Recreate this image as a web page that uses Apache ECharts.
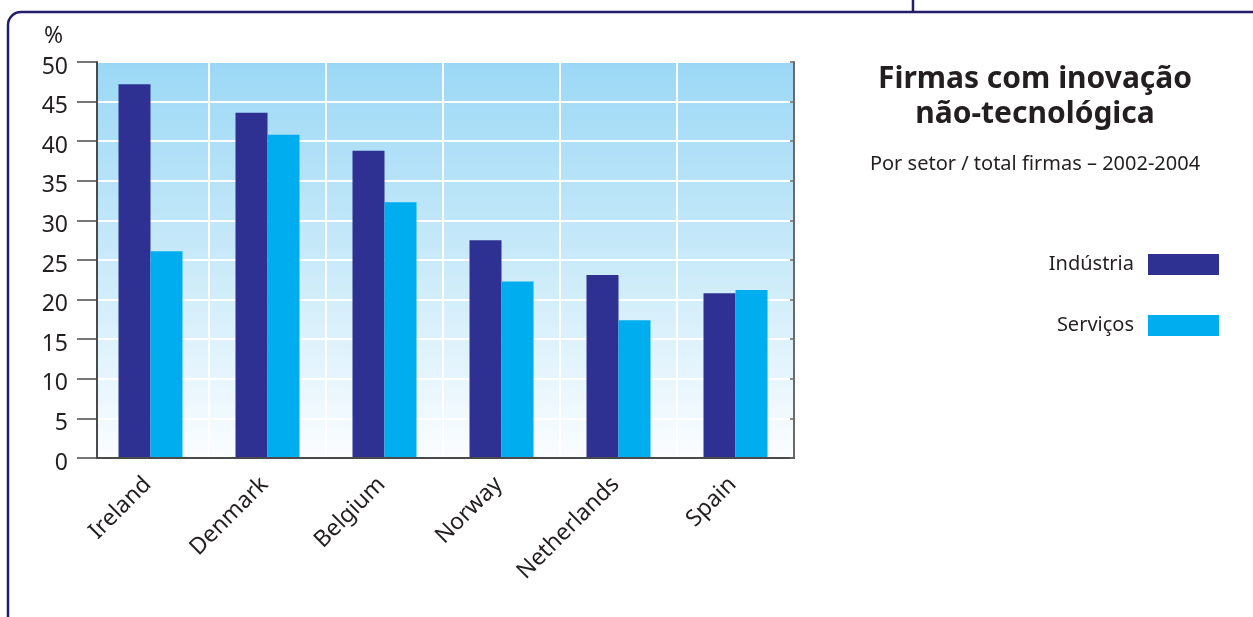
<!DOCTYPE html>
<html>
<head>
<meta charset="utf-8">
<title>Firmas com inovação não-tecnológica</title>
<script src="https://cdn.jsdelivr.net/npm/echarts@6/dist/echarts.min.js"></script>
<style>
  html, body { margin: 0; padding: 0; background: #ffffff; }
  #chart { width: 1253px; height: 617px; }
</style>
</head>
<body>
<div id="chart"></div>
<script>
// Share of firms with non-technological innovation, 2002-2004 (%)
const countries = ['Ireland', 'Denmark', 'Belgium', 'Norway', 'Netherlands', 'Spain'];
const industria = [47.2, 43.6, 38.8, 27.5, 23.1, 20.8];
const servicos  = [26.1, 40.8, 32.3, 22.3, 17.4, 21.2];
const yTicks = { min: 0, max: 50, interval: 5 };

const FONT = '"Noto Sans", "Open Sans", sans-serif';
const TEXT = '#231f20';
const NAVY = '#2e3192';
const CYAN = '#00aeef';
const FRAME = '#221e6a';
const EDGE_DARK = '#4a4a4a';
const EDGE = '#6a6a6a';

// helper for the hidden value axes that only draw a panel edge
function edgeAxis(position, color, extra) {
  return Object.assign({
    gridIndex: 0,
    type: 'value',
    position: position,
    min: 0, max: 1,
    z: 5,
    axisLine: { show: true, lineStyle: { color: color, width: 2 } },
    axisTick: { show: false },
    axisLabel: { show: false },
    splitLine: { show: false }
  }, extra || {});
}

const chart = echarts.init(document.getElementById('chart'), null, { renderer: 'canvas' });

chart.setOption({
  animation: false,
  textStyle: { fontFamily: FONT },
  grid: [
    // plot panel: gradient background and value axis
    {
      left: 97, top: 62, width: 697, height: 396,
      show: true,
      borderWidth: 0,
      backgroundColor: {
        type: 'linear', x: 0, y: 0, x2: 0, y2: 1,
        colorStops: [
          { offset: 0, color: '#9bd8f6' },
          { offset: 0.5, color: '#c9eaf9' },
          { offset: 1, color: '#fbfdff' }
        ]
      }
    },
    // bars
    { left: 92, top: 62, width: 702, height: 396 }
  ],
  xAxis: [
    edgeAxis('bottom', EDGE),
    edgeAxis('top', EDGE_DARK),
    {
      gridIndex: 1,
      type: 'category',
      data: countries,
      axisLine: { show: false },
      axisTick: { show: false },
      splitLine: { show: true, lineStyle: { color: '#ffffff', width: 2 } },
      axisLabel: {
        rotate: 45,
        margin: 20,
        fontSize: 23,
        color: TEXT,
        fontFamily: FONT,
        padding: [0, 4, 0, 0]
      }
    }
  ],
  yAxis: [
    {
      gridIndex: 0,
      type: 'value',
      min: yTicks.min, max: yTicks.max, interval: yTicks.interval,
      name: '%',
      nameLocation: 'end',
      nameGap: 14,
      nameTextStyle: { fontSize: 23, color: TEXT, align: 'right', padding: [0, 34, 0, 0], fontFamily: FONT },
      z: 5,
      axisLine: { show: true, lineStyle: { color: EDGE_DARK, width: 2 } },
      axisTick: { show: true, length: 20, lineStyle: { color: EDGE_DARK, width: 1.5 } },
      axisLabel: {
        margin: 29, fontSize: 23, color: TEXT, fontFamily: FONT,
        verticalAlign: 'top', lineHeight: 10
      },
      splitLine: { show: false }
    },
    {
      // white horizontal grid lines, beneath the panel edges
      gridIndex: 0,
      type: 'value',
      min: yTicks.min, max: yTicks.max, interval: yTicks.interval,
      axisLine: { show: false },
      axisTick: { show: false },
      axisLabel: { show: false },
      splitLine: { show: true, lineStyle: { color: '#ffffff', width: 2 } }
    },
    {
      gridIndex: 0,
      type: 'value',
      position: 'right',
      min: yTicks.min, max: yTicks.max, interval: yTicks.interval,
      z: 5,
      axisLine: { show: true, lineStyle: { color: EDGE, width: 2 } },
      axisTick: { show: true, inside: true, length: 4, lineStyle: { color: EDGE, width: 1.5 } },
      axisLabel: { show: false },
      splitLine: { show: false }
    },
    {
      gridIndex: 1,
      type: 'value',
      min: yTicks.min, max: yTicks.max, interval: yTicks.interval,
      show: false
    }
  ],
  legend: {
    orient: 'vertical',
    right: 34,
    top: 254,
    padding: 0,
    align: 'right',
    icon: 'rect',
    itemWidth: 71,
    itemHeight: 21,
    itemGap: 40,
    textStyle: { fontSize: 20, color: TEXT, fontFamily: FONT, padding: [0, 9, 0, 0] },
    data: ['Indústria', 'Serviços']
  },
  series: [
    {
      name: 'Indústria',
      type: 'bar',
      xAxisIndex: 2, yAxisIndex: 3,
      data: industria,
      barWidth: 32,
      barGap: '0%',
      itemStyle: { color: NAVY }
    },
    {
      name: 'Serviços',
      type: 'bar',
      xAxisIndex: 2, yAxisIndex: 3,
      data: servicos,
      barWidth: 32,
      barGap: '0%',
      itemStyle: { color: CYAN }
    }
  ],
  graphic: [
    // page frame: left edge, rounded corner, top edge and divider tick
    {
      type: 'line',
      shape: { x1: 8, y1: 617, x2: 8, y2: 25 },
      style: { stroke: FRAME, lineWidth: 2.5 },
      silent: true
    },
    {
      type: 'arc',
      shape: { cx: 21, cy: 25, r: 13, startAngle: Math.PI, endAngle: Math.PI * 1.5, clockwise: true },
      style: { stroke: FRAME, lineWidth: 2.5, fill: null },
      silent: true
    },
    {
      type: 'line',
      shape: { x1: 21, y1: 12, x2: 1253, y2: 12 },
      style: { stroke: FRAME, lineWidth: 2.5 },
      silent: true
    },
    {
      type: 'line',
      shape: { x1: 913, y1: 0, x2: 913, y2: 12 },
      style: { stroke: FRAME, lineWidth: 2.5 },
      silent: true
    },
    // heading
    {
      type: 'text',
      x: 1035, y: 62,
      style: {
        text: 'Firmas com inovação\nnão-tecnológica',
        fontFamily: FONT, fontSize: 30, fontWeight: 'bold', fill: TEXT,
        align: 'center', verticalAlign: 'top', lineHeight: 35
      }
    },
    {
      type: 'text',
      x: 1035, y: 164,
      style: {
        text: 'Por setor / total firmas – 2002-2004',
        fontFamily: FONT, fontSize: 20, fill: TEXT,
        align: 'center', verticalAlign: 'middle'
      }
    }
  ]
});
</script>
</body>
</html>
